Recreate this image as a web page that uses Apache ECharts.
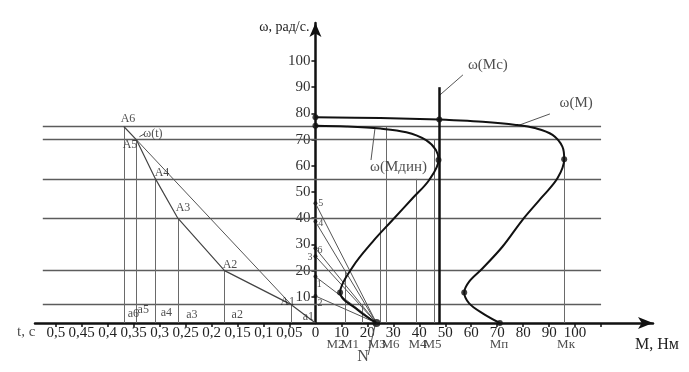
<!DOCTYPE html>
<html><head><meta charset="utf-8">
<script src="https://cdn.jsdelivr.net/npm/echarts@6/dist/echarts.min.js"></script>
<style>html,body{margin:0;padding:0;background:#fff}#c{width:689px;height:372px}</style>
</head><body><div id="c"></div>
<script>
// ---------------- DATA ----------------
// speed levels of the intervals (rad/s)
const omegaLevels = [7, 20, 40, 55, 70, 75];
// average dynamic torques per interval, N·m
const mDynNames  = ['M1', 'M2', 'M3', 'M4', 'M5', 'M6'];
const mDynValues = [18.2, 11.5, 25, 39, 45.8, 27.2];
// points 1..6 transferred onto the ω axis
const axisPointNames  = ['1', '2', '3', '4', '5', '6'];
const axisPointValues = [17.7, 10.3, 25.5, 38.7, 45.7, 28.5];
// pole N on the M axis
const poleN = 23.5;
// static load torque line ω(Mc)
const Mc = 47.7, McTop = 90;
// critical and starting torque
const Mk = 95.8, omegaMk = 62.5, Mp = 71;
// motor characteristic ω(M)
const curveM_M = [71, 64.4, 59.2, 57.3, 59.2, 64.4, 72, 79.7, 87.4, 93.2, 95.8, 95.1, 91.3, 84.9, 77.2, 64.4, 51.5, 47.7, 25, 0];
const curveM_w = [0, 3.7, 7.5, 11.6, 15.8, 20.9, 29.1, 39.3, 48.2, 55.2, 62.5, 67.3, 71.8, 74.3, 75.6, 76.8, 77.5, 77.7, 78.2, 78.5];
const curveMDots = [[71, 0], [57.3, 11.6], [95.8, 62.5], [47.7, 77.7], [0, 78.5]];
// dynamic torque characteristic ω(Mдин)
const curveD_M = [23.5, 16.3, 9.5, 14.4, 22, 29.7, 37.4, 43.8, 47.4, 46.4, 42.6, 35, 25, 12, 0];
const curveD_w = [0, 5, 11.6, 21.5, 31, 39.3, 47.6, 54.6, 62.2, 66, 69.8, 72.8, 74.2, 75, 75.3];
const curveDDots = [[9.5, 11.6], [47.4, 62.2], [0, 75.3]];
// ω(t) construction points A1..A6
const pointNamesA = ['A1', 'A2', 'A3', 'A4', 'A5', 'A6'];
const timesA  = [0.0465, 0.175, 0.265, 0.308, 0.345, 0.369];
const omegaA  = [7, 20, 40, 55, 70, 75];
// tick labels
const tTickValues = [0.05, 0.1, 0.15, 0.2, 0.25, 0.3, 0.35, 0.4, 0.45, 0.5];
const tTickLabels = ['0,05', '0,1', '0,15', '0,2', '0,25', '0,3', '0,35', '0,4', '0,45', '0,5'];
const mTickValues = [10, 20, 30, 40, 50, 60, 70, 80, 90, 100];
const omegaTickValues = [10, 20, 30, 40, 50, 60, 70, 80, 90, 100];

// ---------------- SCALES / HELPERS ----------------
const X_PER_SECOND = 200;           // 0,05 s on the time half-axis = 10 N·m on the torque half-axis
const tx = t => -t * X_PER_SECOND;
const FONT = 'Liberation Serif';
const INK = '#111';
const HL_FROM = -105, HL_TO = 110;   // extent of the horizontal construction lines
const X_MIN = -108, X_MAX = 130;
const GRID = { left: 35, right: 36, top: 23, bottom: 49 };
const CHART_W = 689;
// shift of the ω axis from the grid's left edge to x = 0
const yAxisOffset = -((0 - X_MIN) / (X_MAX - X_MIN)) * (CHART_W - GRID.left - GRID.right);

const zip = (xs, ys) => xs.map((x, i) => [x, ys[i]]);
const seg = (a, b) => ({ coords: [a, b] });

const tickX = [...tTickValues.map(tx), ...mTickValues, 110];
const labelX = [...tTickValues.map(tx), 0, ...mTickValues];
function fmtX(v) {
  const r = Math.round(v * 1000) / 1000;
  if (r === 0) return '0';
  if (r < 0) {
    const i = tTickValues.findIndex(t => Math.abs(tx(t) - r) < 1e-6);
    return i >= 0 ? tTickLabels[i] : '';
  }
  return mTickValues.includes(r) ? String(r) : '';
}

// segments
const hLines = omegaLevels.map(w => seg([HL_FROM, w], [HL_TO, w]));
const stepTops = [7, 20, 40, 55, 70, 75];
const mVerticals = mDynValues.map((m, i) => seg([m, 0], [m, stepTops[i]]));
mVerticals.push(seg([Mk, 0], [Mk, omegaMk]));
const aPts = timesA.map((t, i) => [tx(t), omegaA[i]]);
const aVerticals = aPts.map(p => seg([p[0], 0], p));
const rays = axisPointValues.map(w => seg([0, w], [poleN, 0]));
const longChord = [seg(aPts[4], aPts[0])];
const omegaT = [[0, 0], ...aPts];

// annotations (text anchored in data coordinates)
const ann = [
  { t: 'ω(Mc)', p: [66.4, 98.5], s: 15 },
  { t: 'ω(M)', p: [100.4, 84], s: 15 },
  { t: 'ω(Mдин)', p: [32, 59.5], s: 15 },
  { t: 'ω(t)', p: [-62.6, 72.3], s: 12 },
  { t: 'A6', p: [-72.2, 77.9], s: 12 },
  { t: 'A5', p: [-71.4, 67.9], s: 12 },
  { t: 'A4', p: [-59.1, 57.3], s: 12 },
  { t: 'A3', p: [-51, 43.9], s: 12 },
  { t: 'A2', p: [-32.9, 22.1], s: 12 },
  { t: 'A1', p: [-10.7, 8], s: 12 },
  { t: 'a6', p: [-70.1, 3.4], s: 12 },
  { t: 'a5', p: [-66.3, 5], s: 12 },
  { t: 'a4', p: [-57.4, 3.7], s: 12 },
  { t: 'a3', p: [-47.6, 3.1], s: 12 },
  { t: 'a2', p: [-30.1, 3.1], s: 12 },
  { t: 'a1', p: [-2.7, 2.4], s: 12 },
  { t: '5', p: [2, 45.7], s: 10 },
  { t: '4', p: [2, 38], s: 10 },
  { t: '6', p: [1.8, 27.9], s: 10 },
  { t: '3', p: [-2.1, 25.1], s: 10 },
  { t: '1', p: [1.5, 14.9], s: 10 },
  { t: '2', p: [1.8, 7.5], s: 10 },
  { t: 'N', p: [18.3, -13], s: 16 },
  { t: 'M2', p: [7.7, -8.4], s: 13 },
  { t: 'M1', p: [13.3, -8.4], s: 13 },
  { t: 'M3', p: [23.6, -8.4], s: 13 },
  { t: 'M6', p: [28.9, -8.4], s: 13 },
  { t: 'M4', p: [39.3, -8.4], s: 13 },
  { t: 'M5', p: [45.1, -8.4], s: 13 },
  { t: 'Mп', p: [70.7, -8.4], s: 13 },
  { t: 'Mк', p: [96.5, -8.4], s: 13 },
  { t: 't, c', p: [-111.4, -3.4], s: 15 }
];
const leaders = [
  seg([47.9, 87], [56.8, 94.7]),
  seg([77.6, 75.2], [90.3, 79.8]),
  seg([21.4, 62.2], [22.9, 74]),
  seg([-67.8, 71.1], [-66, 72.1]),
  seg([20.3, -12.2], [23, -0.8])
];

const linesSeries = (data, color, width, z) => ({
  type: 'lines', coordinateSystem: 'cartesian2d', polyline: false, silent: true,
  data, z: z || 2, clip: false, lineStyle: { color, width, opacity: 1, type: 'solid' }
});

const option = {
  animation: false,
  backgroundColor: '#fff',
  grid: GRID,
  xAxis: {
    type: 'value', min: X_MIN, max: X_MAX,
    axisLine: { onZero: false, symbol: ['none', 'arrow'], symbolSize: [9, 15], lineStyle: { color: INK, width: 2.5 } },
    axisTick: { show: true, customValues: tickX, length: 4, lineStyle: { color: INK, width: 1.5 } },
    axisLabel: { customValues: labelX, formatter: fmtX, fontFamily: FONT, fontSize: 15, color: '#222', margin: 3 },
    splitLine: { show: false },
    name: 'M, Нм', nameLocation: 'end', nameGap: -18,
    nameTextStyle: { fontFamily: FONT, fontSize: 16, color: '#222', align: 'left', verticalAlign: 'top', padding: [14, 0, 0, 0] }
  },
  yAxis: {
    type: 'value', min: 0, max: 114.5, position: 'left', offset: yAxisOffset,
    axisLine: { onZero: false, symbol: ['none', 'arrow'], symbolSize: [9, 14], lineStyle: { color: INK, width: 2.5 } },
    axisTick: { show: true, customValues: omegaTickValues, length: 4, lineStyle: { color: INK, width: 1.5 } },
    axisLabel: { customValues: omegaTickValues, fontFamily: FONT, fontSize: 15, color: '#333', margin: 5,
      verticalAlign: 'middle', padding: [0, 0, 6, 0] },
    splitLine: { show: false },
    name: 'ω, рад/с.', nameLocation: 'end', nameGap: -4,
    nameTextStyle: { fontFamily: FONT, fontSize: 14, color: '#222', align: 'right', verticalAlign: 'middle', padding: [0, 6, 0, 0] }
  },
  series: [
    linesSeries(hLines, '#5c5c5c', 1.3, 1),
    linesSeries(mVerticals, '#6a6a6a', 1, 1),
    linesSeries(aVerticals, '#6a6a6a', 1, 1),
    linesSeries(rays, '#555', 1, 2),
    linesSeries(longChord, '#555', 1, 2),
    linesSeries(leaders, '#555', 1, 2),
    linesSeries([seg([Mc, 0], [Mc, McTop])], INK, 2.5, 3),
    { type: 'line', data: omegaT, showSymbol: false, smooth: false, silent: true, z: 3,
      lineStyle: { color: '#444', width: 1.2 } },
    { type: 'line', data: zip(curveM_M, curveM_w), showSymbol: false, smooth: 0.35, silent: true, z: 4,
      lineStyle: { color: INK, width: 2 } },
    { type: 'line', data: zip(curveD_M, curveD_w), showSymbol: false, smooth: 0.35, silent: true, z: 4,
      lineStyle: { color: INK, width: 2 } },
    { type: 'scatter', data: [...curveMDots, ...curveDDots], symbolSize: 6, silent: true, z: 5,
      itemStyle: { color: INK } },
    { type: 'scatter', data: [[poleN, 0]], symbolSize: 8, silent: true, z: 5, itemStyle: { color: INK } },
    { type: 'scatter', data: axisPointValues.map(w => [0, w]), symbolSize: 4, silent: true, z: 5,
      itemStyle: { color: INK } },
    { type: 'scatter', clip: false, silent: true, z: 6, symbolSize: 0,
      data: ann.map(a => ({ value: a.p, label: { show: true, formatter: a.t, position: [0, 0],
        align: 'center', verticalAlign: 'middle', fontFamily: FONT, fontSize: a.s, color: '#222' } })) }
  ]
};
echarts.init(document.getElementById('c'), null, { renderer: 'canvas' }).setOption(option);
</script></body></html>
